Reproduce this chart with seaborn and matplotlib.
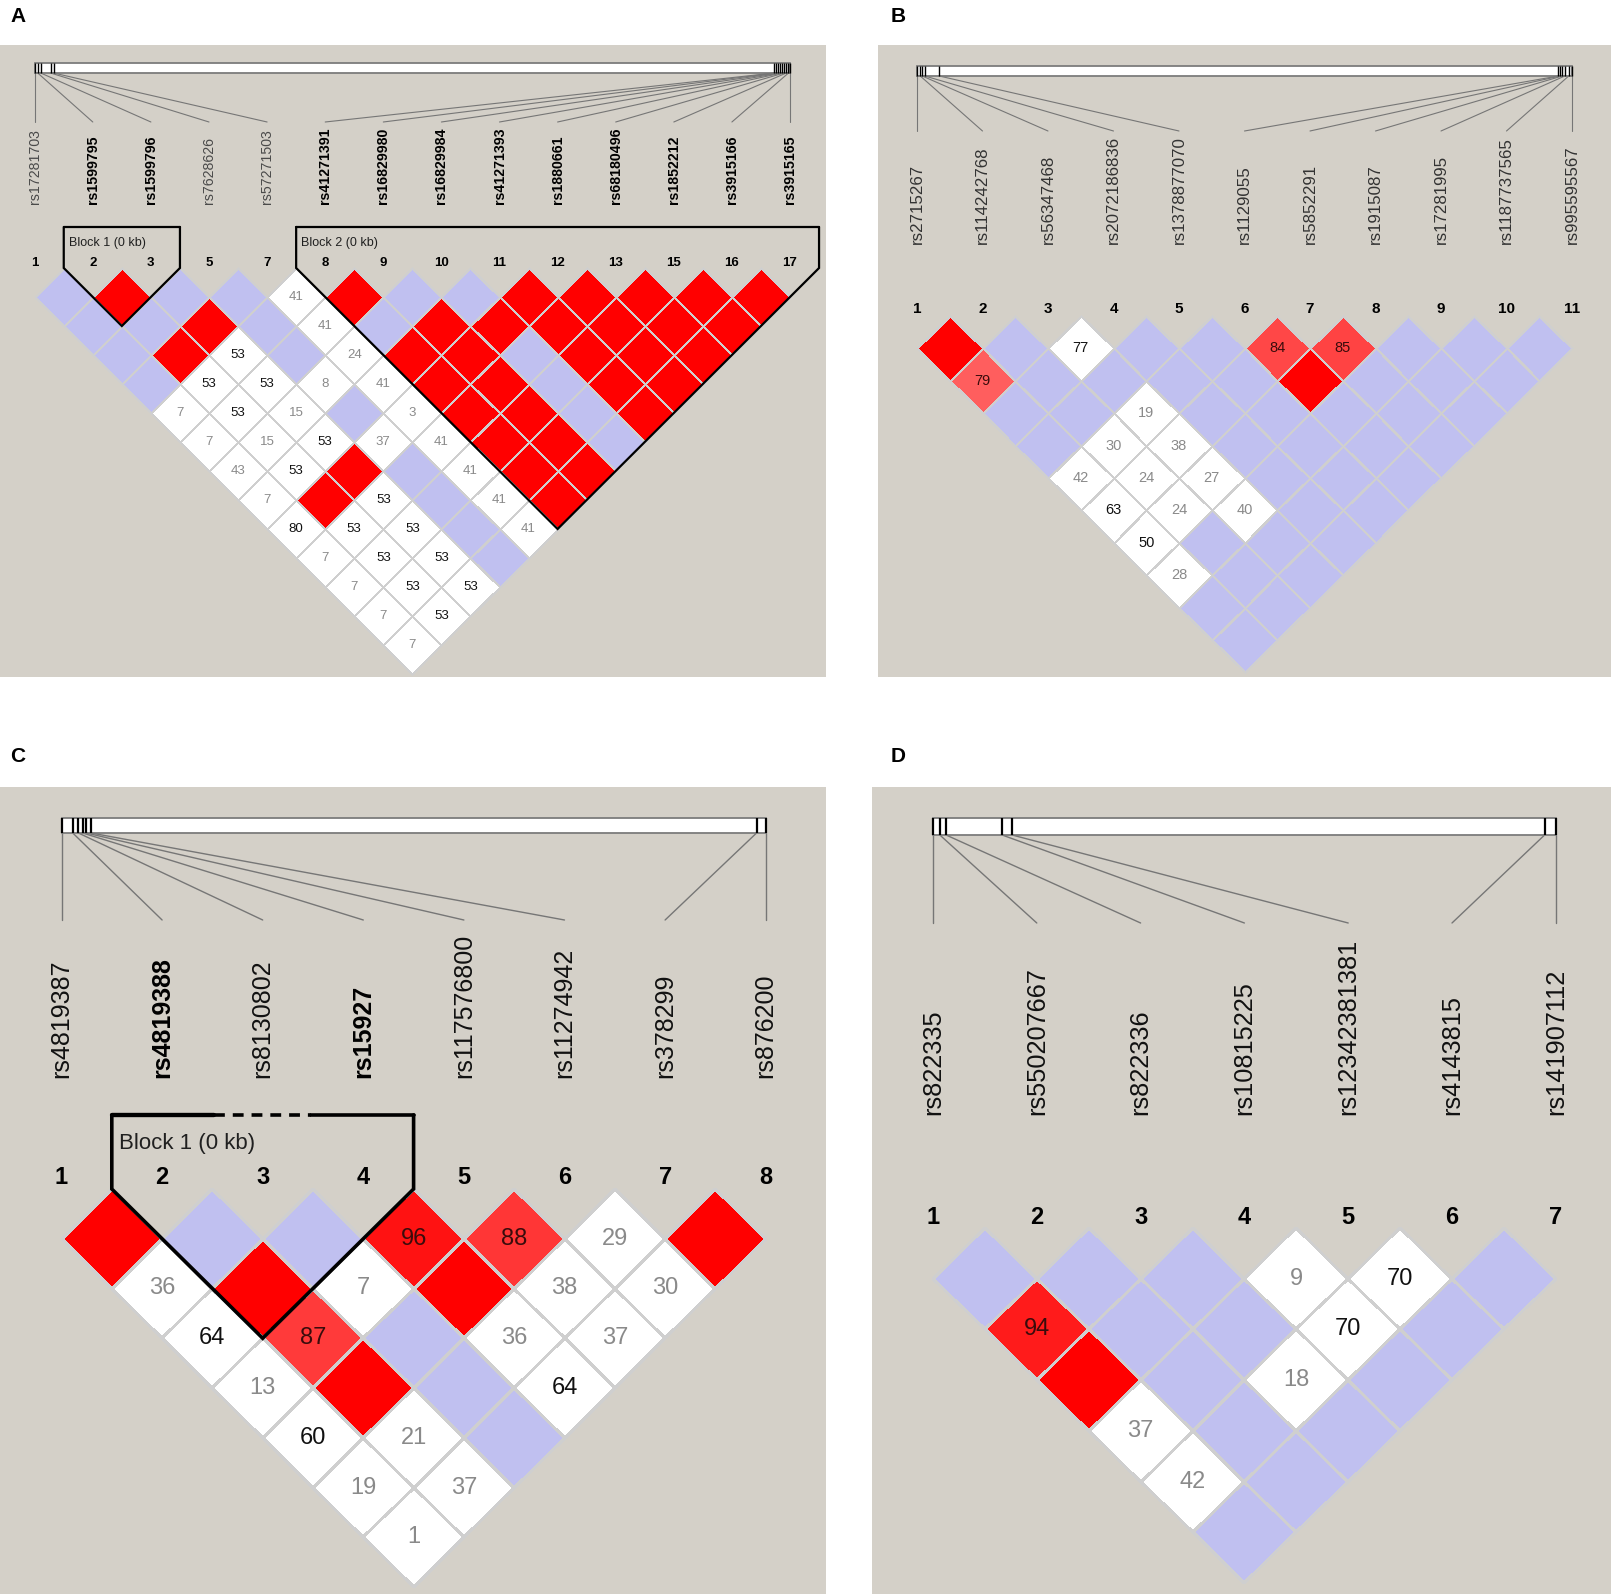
import numpy as np
import matplotlib
matplotlib.use('Agg')
import matplotlib.pyplot as plt
from matplotlib.colors import ListedColormap, to_hex, to_rgba
from matplotlib.patches import Rectangle
from matplotlib.transforms import Affine2D
import seaborn as sns

# ---------------- data ----------------
# LD rows: row k holds the pairs (i, i+k).  R = red (D'=1, strong), B = blue (D'=1, weak),
# number = white cell with D' value (* = dark text), pNN = pink cell with D' value
A_snps = ['rs17281703', 'rs1599795', 'rs1599796', 'rs7628626', 'rs57271503',
          'rs41271391', 'rs16829980', 'rs16829984', 'rs41271393', 'rs1880661',
          'rs68180496', 'rs1852212', 'rs3915166', 'rs3915165']
A_index = [1, 2, 3, 5, 7, 8, 9, 10, 11, 12, 13, 15, 16, 17]
A_bold = [1, 2, 5, 6, 7, 8, 9, 10, 11, 12, 13]
A_pos = [0, .004, .008, .021, .025, .979, .981, .984, .987, .989, .992, .995, .998, 1]
A_ld = [
    "B R B B 41 R B B R R R R R",
    "B B R B 41 B R R R R R R",
    "B R 53* B 24 R R B R R R",
    "B 53* 53* 8 41 R R B R R",
    "7 53* 15 B 3 R R B R",
    "7 15 53* 37 41 R R B",
    "43 53* R B 41 R R",
    "7 R 53* B 41 R",
    "80* 53* 53* B 41",
    "7 53* 53* B",
    "7 53* 53*",
    "7 53*",
    "7",
]
A_blocks = [(1, 2, 'Block 1 (0 kb)'), (5, 13, 'Block 2 (0 kb)')]

B_snps = ['rs2715267', 'rs114242768', 'rs56347468', 'rs2072186836', 'rs1378877070',
          'rs1129055', 'rs5852291', 'rs1915087', 'rs17281995', 'rs1187737565',
          'rs995595567']
B_index = list(range(1, 12))
B_bold = []
B_pos = [0, .005, .008, .012, .034, .979, .982, .985, .989, .995, 1]
B_ld = [
    "R B 77* B B p84 p85 B B B",
    "p79 B B B B R B B B",
    "B B 19 B B B B B",
    "B 30 38 B B B B",
    "42 24 27 B B B",
    "63* 24 40 B B",
    "50* B B B",
    "28 B B",
    "B B",
    "B",
]
B_blocks = []

C_snps = ['rs4819387', 'rs4819388', 'rs8130802', 'rs15927', 'rs117576800',
          'rs11274942', 'rs378299', 'rs876200']
C_index = list(range(1, 9))
C_bold = [1, 3]
C_pos = [0, .016, .024, .030, .035, .042, .987, 1]
C_ld = [
    "R B B p96 p88 29 R",
    "36 R 7 R 38 30",
    "64* p87 B 36 37",
    "13 R B 64*",
    "60* 21 B",
    "19 37",
    "1",
]
C_blocks = [(1, 3, 'Block 1 (0 kb)')]

D_snps = ['rs822335', 'rs550207667', 'rs822336', 'rs10815225', 'rs12342381381',
          'rs4143815', 'rs141907112']
D_index = list(range(1, 8))
D_bold = []
D_pos = [0, .011, .021, .111, .127, .982, 1]
D_ld = [
    "B B B 9 70* B",
    "p94 B B 70* B",
    "R B 18 B",
    "37 B B",
    "42 B",
    "B",
]
D_blocks = []

# ---------------- layout (pixels) ----------------
W, H = 1619, 1594
BG = '#d4d0c8'
BLUE = '#c0c0f0'
RED = '#ff0000'
GRID = '#cfcfcf'

layouts = {
    'A': dict(rect=(0, 45, 826, 632), letter=(18, 16), x0=34.7, dx=58.1, hx=29.05, hy=29.0,
              top=268, num_y=263, bar=(63, 73), line_end=122, label_y=204, label_fs=10.2,
              num_fs=9.5, cell_fs=9.5, block_top=227, block_text_y=243, block_fs=9,
              block_lw=1.6, line_lw=0.8, tick_lw=1.0, grid_lw=0.8, dashed=None,
              label_col='#4a4a4a'),
    'B': dict(rect=(878, 45, 733, 632), letter=(898, 16), x0=917, dx=65.5, hx=32.75, hy=32.4,
              top=316, num_y=309, bar=(66, 76), line_end=131, label_y=244, label_fs=12.2,
              num_fs=11, cell_fs=10.5, block_top=None, block_text_y=None, block_fs=10,
              block_lw=1.6, line_lw=0.8, tick_lw=1.0, grid_lw=0.8, dashed=None,
              label_col='#333333'),
    'C': dict(rect=(0, 787, 826, 807), letter=(18, 756), x0=61.5, dx=100.6, hx=50.3, hy=49.75,
              top=1189, num_y=1178, bar=(818, 833), line_end=920, label_y=1078, label_fs=18,
              num_fs=17, cell_fs=17, block_top=1115, block_text_y=1143, block_fs=16,
              block_lw=2.6, line_lw=1.0, tick_lw=1.6, grid_lw=1.2, dashed=(0.34, 0.66),
              label_col='#111111'),
    'D': dict(rect=(872, 787, 739, 807), letter=(898, 756), x0=933, dx=103.8, hx=51.9, hy=50.7,
              top=1228, num_y=1218, bar=(818, 835), line_end=923, label_y=1115, label_fs=18.3,
              num_fs=17, cell_fs=17, block_top=None, block_text_y=None, block_fs=16,
              block_lw=2.6, line_lw=1.0, tick_lw=1.6, grid_lw=1.2, dashed=None,
              label_col='#111111'),
}


def cell_style(code):
    if code == 'R':
        return RED, '', None
    if code == 'B':
        return BLUE, '', None
    if code.startswith('p'):
        d = int(code[1:])
        g = max(0, min(255, int(round(446 * (1 - d / 100)))))
        return to_hex((1.0, g / 255, g / 255)), str(d), '#3a0c0c'
    dark = code.endswith('*')
    return '#ffffff', code.rstrip('*'), '#111111' if dark else '#8a8a8a'


def draw_ld(fig, canvas, rows, lay):
    n = len(rows) + 1
    codes = np.full((n, n), -1.0)
    annot = np.full((n, n), '', dtype=object)
    tcols = {}
    palette = []
    for k, row in enumerate(rows, start=1):
        for i, code in enumerate(row.split()):
            face, label, tc = cell_style(code)
            if face not in palette:
                palette.append(face)
            codes[i, i + k] = palette.index(face)
            annot[i, i + k] = label
            tcols[(i + k + 0.5, i + 0.5)] = tc
    mask = codes < 0
    hm_ax = fig.add_axes([0, 0, 1, 1], zorder=1)
    sns.heatmap(codes, mask=mask, cmap=ListedColormap(palette), vmin=-0.5,
                vmax=len(palette) - 0.5, cbar=False, annot=annot, fmt='',
                linewidths=lay['grid_lw'], linecolor=GRID,
                annot_kws=dict(fontsize=lay['cell_fs']), ax=hm_ax)
    hm_ax.set_axis_off()
    hm_ax.patch.set_visible(False)
    hx, hy = lay['hx'], lay['hy']
    T = Affine2D(np.array([[hx, hx, lay['x0'] - hx],
                           [hy, -hy, lay['top']],
                           [0, 0, 1]])) + canvas.transData
    mesh = hm_ax.collections[0]
    # no grid lines around the masked (empty) half of the matrix
    ec = np.tile(to_rgba(GRID), (n * n, 1))
    ec[mask.ravel(), 3] = 0
    mesh.set_edgecolor(ec)
    mesh.set_transform(T)
    mesh.set_clip_on(False)
    for t in hm_ax.texts:
        t.set_transform(T)
        t.set_clip_on(False)
        c = tcols.get(tuple(np.round(t.get_position(), 2)))
        if c is not None:
            t.set_color(c)


def draw_panel(fig, canvas, over, name, snps, index, bold, pos, ld, blocks):
    lay = layouts[name]
    x = lay['x0'] + lay['dx'] * np.arange(len(snps))
    rx, ry, rw, rh = lay['rect']
    canvas.add_patch(Rectangle((rx, ry), rw, rh, facecolor=BG, edgecolor='none', zorder=0))
    canvas.text(*lay['letter'], name, fontsize=15, fontweight='bold', ha='center',
                va='center', color='black')

    # physical map bar
    b0, b1 = lay['bar']
    phys = x[0] + np.array(pos) * (x[-1] - x[0])
    canvas.add_patch(Rectangle((x[0], b0), x[-1] - x[0], b1 - b0, facecolor='white',
                               edgecolor='#7c7c7c', lw=1.3, zorder=2))
    canvas.vlines(phys, b0, b1, color='black', lw=lay['tick_lw'], zorder=3)
    for px, sx in zip(phys, x):
        canvas.plot([px, sx], [b1, lay['line_end']], color='#767676', lw=lay['line_lw'], zorder=2)

    # names and marker numbers
    for i, (s, sx) in enumerate(zip(snps, x)):
        isb = i in bold
        canvas.text(sx, lay['label_y'], s, rotation=90, ha='center', va='bottom',
                    fontsize=lay['label_fs'], fontweight='bold' if isb else 'normal',
                    color='black' if isb else lay['label_col'])
        canvas.text(sx, lay['num_y'], str(index[i]), ha='center', va='center',
                    fontsize=lay['num_fs'], fontweight='bold', color='black')

    draw_ld(fig, canvas, ld, lay)

    # haplotype blocks
    hx, hy = lay['hx'], lay['hy']
    for first, last, label in blocks:
        xl, xr = x[first] - hx, x[last] + hx
        vx, vy = (x[first] + x[last]) / 2, lay['top'] + hy * (last - first + 1)
        bt = lay['block_top']
        over.plot([xl, xl, vx, xr, xr], [bt, lay['top'], vy, lay['top'], bt],
                  color='black', lw=lay['block_lw'], solid_joinstyle='miter')
        if lay['dashed'] is None:
            over.plot([xl, xr], [bt, bt], color='black', lw=lay['block_lw'])
        else:
            f0, f1 = lay['dashed']
            xa, xb = xl + f0 * (xr - xl), xl + f1 * (xr - xl)
            over.plot([xl, xa], [bt, bt], color='black', lw=lay['block_lw'] * 1.2)
            over.plot([xa, xb], [bt, bt], color='black', lw=lay['block_lw'],
                      linestyle=(0, (3, 2.2)))
            over.plot([xb, xr], [bt, bt], color='black', lw=lay['block_lw'])
        over.text(xl + 0.1 * hx + 2, lay['block_text_y'], label, ha='left', va='center',
                  fontsize=lay['block_fs'], color='#202020')


sns.set_theme(style='white')
plt.rcParams['font.family'] = ['Liberation Sans', 'DejaVu Sans']

fig = plt.figure(figsize=(W / 100, H / 100), dpi=100)
fig.patch.set_facecolor('white')
canvas = fig.add_axes([0, 0, 1, 1], zorder=0)
over = fig.add_axes([0, 0, 1, 1], zorder=2)
for ax in (canvas, over):
    ax.set_xlim(0, W)
    ax.set_ylim(H, 0)
    ax.set_axis_off()
    ax.patch.set_visible(False)

draw_panel(fig, canvas, over, 'A', A_snps, A_index, A_bold, A_pos, A_ld, A_blocks)
draw_panel(fig, canvas, over, 'B', B_snps, B_index, B_bold, B_pos, B_ld, B_blocks)
draw_panel(fig, canvas, over, 'C', C_snps, C_index, C_bold, C_pos, C_ld, C_blocks)
draw_panel(fig, canvas, over, 'D', D_snps, D_index, D_bold, D_pos, D_ld, D_blocks)

fig.savefig('out.png', dpi=100, facecolor='white')
